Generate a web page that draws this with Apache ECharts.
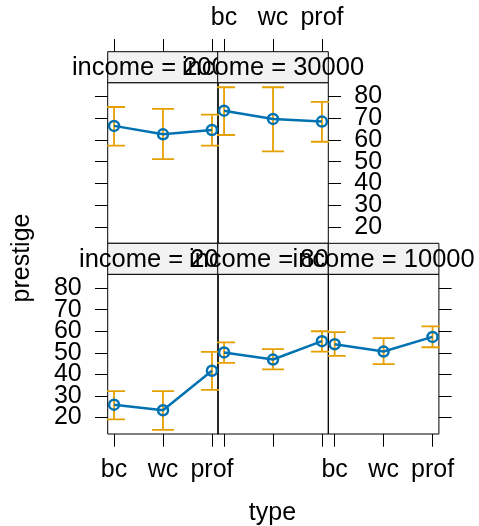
<!DOCTYPE html>
<html><head><meta charset="utf-8">
<script src="https://cdn.jsdelivr.net/npm/echarts@6/dist/echarts.min.js"></script>
<style>html,body{margin:0;padding:0;background:#fff}#c{width:479px;height:526px}</style>
</head><body><div id="c"></div>
<script>
// ---- data ----
const types = ['bc', 'wc', 'prof'];
const incomeLevels = [2000, 8000, 10000, 20000, 30000];
const fitValues = [
  [26.0, 23.4, 41.7],
  [50.2, 46.9, 55.4],
  [54.0, 50.6, 57.4],
  [66.5, 62.6, 64.6],
  [73.5, 69.7, 68.5]
];
const lowerValues = [
  [19.2, 14.3, 32.8],
  [45.4, 42.3, 50.6],
  [48.6, 44.8, 52.6],
  [57.4, 51.2, 57.4],
  [62.3, 54.8, 59.2]
];
const upperValues = [
  [32.3, 32.3, 50.5],
  [54.9, 51.7, 60.0],
  [59.6, 56.8, 62.3],
  [75.2, 74.3, 71.7],
  [84.3, 84.3, 77.6]
];
const yTickValues = [20, 30, 40, 50, 60, 70, 80];
const yLabelsA = [20, 40, 60, 80];
const yLabelsB = [30, 50, 70];
const xTickValues = [1, 2, 3];

// ---- layout / style ----
const FONT = '"Liberation Sans", Arial, Helvetica, sans-serif';
const FS = 25;
const STRIP_FS = 25.5;
const colLeft = [107.7, 217.7, 328.3];
const PW = 110.6;
const rows = {
  top: {top: 82.7, height: 160.6},
  bottom: {top: 274.3, height: 159.7}
};
const STRIP_H = 31;
const TICK_LEN = 12.7;
const Y_MIN = 12.4, Y_MAX = 86.4;
const panels = [
  {col: 0, row: 'bottom', x: 'bottom', xLab: true,  y: 'left',  yTick: true,  yLab: true},
  {col: 1, row: 'bottom', x: 'bottom', xLab: false, y: 'left',  yTick: false, yLab: false},
  {col: 2, row: 'bottom', x: 'bottom', xLab: true,  y: 'right', yTick: true,  yLab: false},
  {col: 0, row: 'top',    x: 'top',    xLab: false, y: 'left',  yTick: true,  yLab: false},
  {col: 1, row: 'top',    x: 'top',    xLab: true,  y: 'right', yTick: true,  yLab: true}
];

const grids = [], xAxes = [], yAxes = [], series = [], graphics = [];

function yLabelStyle(vals, show) {
  return {show: show, customValues: vals, margin: 26,
    showMinLabel: true, showMaxLabel: true, hideOverlap: false,
    color: '#000', fontSize: FS, fontFamily: FONT};
}

panels.forEach((p, i) => {
  const r = rows[p.row];
  grids.push({
    left: colLeft[p.col], top: r.top, width: PW, height: r.height,
    show: true, borderColor: '#000', borderWidth: 1, backgroundColor: 'transparent',
    containLabel: false, outerBoundsMode: 'none'
  });
  xAxes.push({
    gridIndex: i, type: 'value', min: 0.87, max: 3.13,
    position: p.x, offset: p.x === 'top' ? STRIP_H : 0,
    axisLine: {show: false}, splitLine: {show: false},
    axisTick: {show: true, customValues: xTickValues, length: TICK_LEN, inside: false,
      lineStyle: {color: '#000', width: 1}},
    axisLabel: {show: p.xLab, customValues: xTickValues,
      formatter: v => types[Math.round(v) - 1],
      showMinLabel: true, showMaxLabel: true, hideOverlap: false,
      margin: p.x === 'top' ? 21 : 24,
      color: '#000', fontSize: FS, fontFamily: FONT}
  });
  const yIdx = yAxes.length;
  yAxes.push({
    gridIndex: i, type: 'value', min: Y_MIN, max: Y_MAX,
    position: p.y, offset: 0,
    axisLine: {show: false}, splitLine: {show: false},
    axisTick: {show: p.yTick, customValues: yTickValues, length: TICK_LEN, inside: false,
      lineStyle: {color: '#000', width: 1}},
    axisLabel: yLabelStyle(yLabelsA, p.yLab)
  });
  if (p.yLab) {
    yAxes.push({
      gridIndex: i, type: 'value', min: Y_MIN, max: Y_MAX,
      position: p.y, offset: 0,
      axisLine: {show: false}, splitLine: {show: false},
      axisTick: {show: false},
      axisLabel: yLabelStyle(yLabelsB, true)
    });
  }
  series.push({
    type: 'custom', xAxisIndex: i, yAxisIndex: yIdx, clip: true, z: 2,
    silent: true,
    data: types.map((t, j) => [j + 1, lowerValues[i][j], upperValues[i][j]]),
    encode: {x: 0, y: [1, 2]},
    renderItem: function (params, api) {
      const x = api.value(0), lo = api.value(1), hi = api.value(2);
      const a = api.coord([x, lo]), b = api.coord([x, hi]);
      const w = 11;
      const st = {stroke: '#E69F00', lineWidth: 1.8, fill: null};
      return {type: 'group', children: [
        {type: 'line', shape: {x1: a[0], y1: a[1], x2: b[0], y2: b[1]}, style: st},
        {type: 'line', shape: {x1: a[0] - w, y1: a[1], x2: a[0] + w, y2: a[1]}, style: st},
        {type: 'line', shape: {x1: b[0] - w, y1: b[1], x2: b[0] + w, y2: b[1]}, style: st}
      ]};
    }
  });
  series.push({
    type: 'line', xAxisIndex: i, yAxisIndex: yIdx, z: 3, silent: true,
    data: types.map((t, j) => [j + 1, fitValues[i][j]]),
    symbol: 'circle', symbolSize: 10, showSymbol: true,
    lineStyle: {color: '#0072B2', width: 2.5},
    itemStyle: {color: 'rgba(0,0,0,0)', borderColor: '#0072B2', borderWidth: 2.5},
    emphasis: {disabled: true}
  });
  // strip
  const sy = r.top - STRIP_H;
  graphics.push({
    type: 'rect', z: 100 + 2 * i,
    shape: {x: colLeft[p.col], y: sy, width: PW, height: STRIP_H},
    style: {fill: '#f2f2f2', stroke: '#000', lineWidth: 1}
  });
  graphics.push({
    type: 'text', z: 101 + 2 * i,
    x: colLeft[p.col] + PW / 2, y: sy + STRIP_H / 2 + 1,
    style: {text: 'income = ' + incomeLevels[i], fill: '#000', fontSize: STRIP_FS, fontFamily: FONT,
      align: 'center', verticalAlign: 'middle'}
  });
});

graphics.push({
  type: 'text', z: 200, x: 272.5, y: 513,
  style: {text: 'type', fill: '#000', fontSize: FS, fontFamily: FONT, align: 'center', verticalAlign: 'middle'}
});
graphics.push({
  type: 'text', z: 200, x: 22.5, y: 258, rotation: Math.PI / 2,
  style: {text: 'prestige', fill: '#000', fontSize: FS, fontFamily: FONT, align: 'center', verticalAlign: 'middle'}
});

const chart = echarts.init(document.getElementById('c'), null, {renderer: 'canvas'});
chart.setOption({
  animation: false,
  backgroundColor: '#fff',
  grid: grids, xAxis: xAxes, yAxis: yAxes, series: series,
  graphic: {elements: graphics}
});
</script>
</body></html>
